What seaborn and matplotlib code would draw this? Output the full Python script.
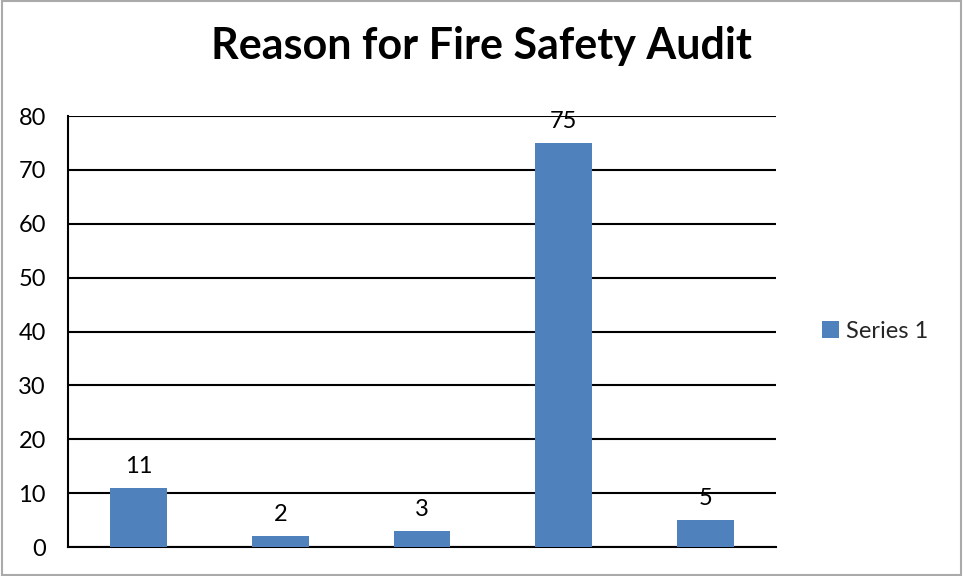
import numpy as np
import pandas as pd
import matplotlib
matplotlib.use('Agg')
from matplotlib import pyplot as plt
from matplotlib.patches import Rectangle
import seaborn as sns

# chart data
categories = ['Reason 1', 'Reason 2', 'Reason 3', 'Reason 4', 'Reason 5']
values = [11, 2, 3, 75, 5]
seriesName = 'Series 1'
yTicks = [0, 10, 20, 30, 40, 50, 60, 70, 80]

df = pd.DataFrame({'reason': categories, 'count': values, 'series': seriesName})

sns.set_theme(style='white')
plt.rcParams['font.family'] = ['Lato', 'DejaVu Sans']

fig = plt.figure(figsize=(9.63, 5.76), dpi=100)
ax = fig.add_axes([0.0706, 0.0503, 0.7352, 0.7483])

sns.barplot(data=df, x='reason', y='count', hue='series', palette=['#4f81bd'],
            width=0.4, dodge=False, saturation=1, linewidth=0, ax=ax, zorder=3)

ax.set_ylim(0, 80)
ax.set_yticks(yTicks)
ax.set_xlim(-0.5, len(categories) - 0.5)
ax.yaxis.grid(True, color='black', linewidth=1.5, zorder=0)
ax.set_axisbelow(True)
ax.tick_params(axis='y', length=0, labelsize=17, pad=16, colors='black')
ax.tick_params(axis='x', length=0)
ax.set_xticklabels([])
ax.set_xlabel('')
ax.set_ylabel('')
for side in ['top', 'right']:
    ax.spines[side].set_visible(False)
for side in ['left', 'bottom']:
    ax.spines[side].set_color('black')
    ax.spines[side].set_linewidth(1.5)

for cont in ax.containers:
    ax.bar_label(cont, padding=8, fontsize=17, color='black')

ax.legend(loc='center left', bbox_to_anchor=(1.035, 0.5), frameon=False,
          fontsize=17, handlelength=0.7, handleheight=0.7, handletextpad=0.3)

fig.suptitle('Reason for Fire Safety Audit', x=0.5, y=0.955, fontsize=31,
             fontweight='bold', color='black')

fig.patches.append(Rectangle((0.002, 0.002), 0.996, 0.996, transform=fig.transFigure,
                             fill=False, edgecolor='#aaaaaa', linewidth=1.5))

plt.savefig('out.png', dpi=100)
plt.close()
